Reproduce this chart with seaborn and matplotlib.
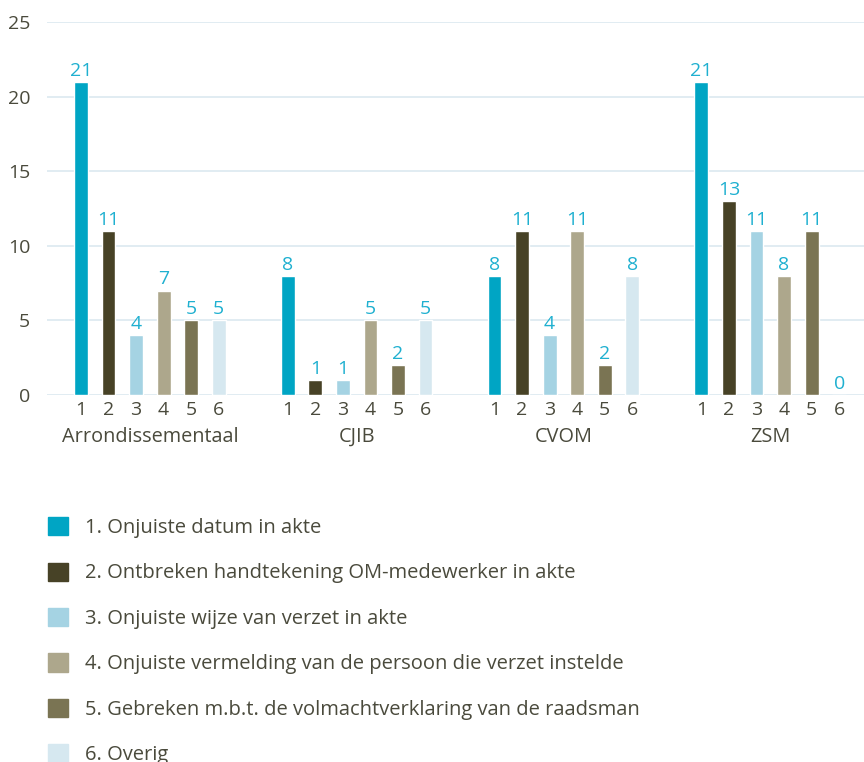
import pandas as pd
import numpy as np
import matplotlib.pyplot as plt
import matplotlib.patches as mpatches
import seaborn as sns

# Data
groups = ['Arrondissementaal', 'CJIB', 'CVOM', 'ZSM']
categories = ['1. Onjuiste datum in akte',
              '2. Ontbreken handtekening OM-medewerker in akte',
              '3. Onjuiste wijze van verzet in akte',
              '4. Onjuiste vermelding van de persoon die verzet instelde',
              '5. Gebreken m.b.t. de volmachtverklaring van de raadsman',
              '6. Overig']
tick_labels = ['1', '2', '3', '4', '5', '6']
arrondissementaal = [21, 11, 4, 7, 5, 5]
cjib = [8, 1, 1, 5, 2, 5]
cvom = [8, 11, 4, 11, 2, 8]
zsm = [21, 13, 11, 8, 11, 0]

colors = ['#00a5c4', '#474226', '#a5d3e3', '#ada78c', '#7a7453', '#d6e8f0']
label_color = '#1fb0d0'
text_color = '#4a4a3c'
grid_color = '#dbe9f0'

values = [arrondissementaal, cjib, cvom, zsm]
rows = []
for g, vals in enumerate(values):
    for i, v in enumerate(vals):
        rows.append({'pos': g * 7.5 + i, 'waarde': v, 'categorie': categories[i], 'groep': groups[g]})
df = pd.DataFrame(rows)

sns.set_style('white')
plt.rcParams['font.family'] = ['Open Sans', 'DejaVu Sans']

fig = plt.figure(figsize=(8.64, 7.62), dpi=100)
ax = fig.add_axes([47 / 864, 1 - 395 / 762, 1 - 47 / 864, (395 - 22) / 762])

sns.barplot(data=df, x='pos', y='waarde', hue='categorie', hue_order=categories,
            palette=colors, native_scale=True, dodge=False, width=0.5,
            saturation=1, legend=False, ax=ax)

for cont in ax.containers:
    ax.bar_label(cont, fmt='%d', color=label_color, fontsize=14, padding=1.5)

ax.set_ylim(0, 25)
ax.set_xlim(-1.23, 3 * 7.5 + 5 + 0.9)
ax.set_yticks(range(0, 26, 5))
ax.set_xticks(df['pos'])
ax.set_xticklabels(tick_labels * 4)
ax.tick_params(axis='both', length=0, labelsize=14, colors=text_color)
ax.tick_params(axis='y', pad=12)
ax.tick_params(axis='x', pad=4)
ax.grid(axis='y', color=grid_color, linewidth=1.2)
ax.set_axisbelow(True)
for s in ax.spines.values():
    s.set_visible(False)
ax.set_xlabel('')
ax.set_ylabel('')

for g, name in enumerate(groups):
    ax.text(g * 7.5 + 2.5, -0.113, name, transform=ax.get_xaxis_transform(),
            ha='center', va='center', fontsize=14.3, color=text_color)

handles = [mpatches.Patch(color=c, label=l) for c, l in zip(colors, categories)]
fig.legend(handles=handles, loc='upper left', bbox_to_anchor=(40 / 864, 1 - 509 / 762),
           frameon=False, fontsize=14.5, labelcolor=text_color, handlelength=1.0,
           handleheight=1.0, labelspacing=1.22, handletextpad=0.85, borderaxespad=0)

fig.savefig('out.png', dpi=100)
